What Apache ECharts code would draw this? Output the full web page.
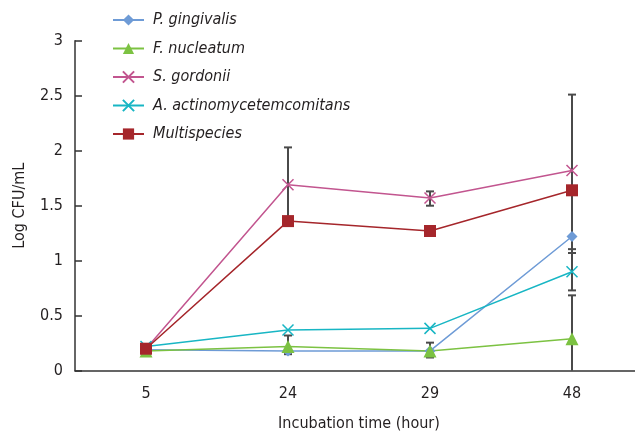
<!DOCTYPE html>
<html>
<head>
<meta charset="utf-8">
<script src="https://cdn.jsdelivr.net/npm/echarts@6/dist/echarts.min.js"></script>
<style>html,body{margin:0;padding:0;background:#fff}#c{width:635px;height:436px}</style>
</head>
<body>
<div id="c"></div>
<script>
const categories = ['5', '24', '29', '48'];
const pGingivalis = [0.19, 0.18, 0.18, 1.22];
const fNucleatum = [0.18, 0.22, 0.18, 0.29];
const sGordonii = [0.20, 1.69, 1.57, 1.82];
const aActino = [0.22, 0.37, 0.385, 0.90];
const multispecies = [0.20, 1.36, 1.27, 1.64];
// error bars: [category index, from, to, cap at end (1/0)]
const errorBars = [
  [1, 1.36, 2.03, 1],
  [1, 0.22, 0.32, 1],
  [1, 0.22, 0.15, 1],
  [2, 1.57, 1.63, 1],
  [2, 1.57, 1.50, 1],
  [2, 0.18, 0.255, 1],
  [2, 0.18, 0.12, 1],
  [3, 1.64, 2.51, 1],
  [3, 1.64, 1.22, 0],
  [3, 1.22, 1.07, 1],
  [3, 0.90, 1.105, 1],
  [3, 0.90, 0.73, 1],
  [3, 0.29, 0.685, 1],
  [3, 0.29, 0.0, 0]
];
const yTicks = {min: 0, max: 3, interval: 0.5};

const FONT = '"DejaVu Sans Condensed", "Liberation Sans Narrow", "Roboto", sans-serif';
const TXT = '#231f20';
const crossPath = 'path://M0,0L10,10M10,0L0,10';
const vbarPath = 'path://M5,0L5,10';

const chart = echarts.init(document.getElementById('c'), null, {renderer: 'canvas'});

function lineSeries(name, data, color, symbol, size, extra) {
  return Object.assign({
    name: name, type: 'line', data: data, symbol: symbol, symbolSize: size,
    lineStyle: {color: color, width: 1.5},
    itemStyle: {color: color},
    z: 3, animation: false
  }, extra || {});
}

chart.setOption({
  animation: false,
  grid: {left: 75, top: 40.7, width: 568, height: 330, outerBoundsMode: 'none'},
  legend: {
    orient: 'vertical', left: 107, top: 7,
    itemWidth: 31, itemHeight: 14, itemGap: 12.5,
    textStyle: {fontFamily: FONT, fontSize: 16, fontStyle: 'italic', color: TXT, padding: [0, 0, 0, 4]},
    data: ['P. gingivalis', 'F. nucleatum', 'S. gordonii', 'A. actinomycetemcomitans', 'Multispecies']
  },
  xAxis: {
    type: 'category', data: categories, boundaryGap: true,
    name: 'Incubation time (hour)', nameLocation: 'middle', nameGap: 45,
    nameTextStyle: {fontFamily: FONT, fontSize: 16, color: TXT},
    axisLine: {lineStyle: {color: '#333', width: 1.5}},
    axisTick: {inside: true, alignWithLabel: true, length: 7, lineStyle: {color: '#333', width: 1.5}},
    axisLabel: {fontFamily: FONT, fontSize: 16, color: TXT, margin: 15}
  },
  yAxis: {
    type: 'value', min: yTicks.min, max: yTicks.max, interval: yTicks.interval,
    name: 'Log CFU/mL', nameLocation: 'middle', nameGap: 47,
    nameTextStyle: {fontFamily: FONT, fontSize: 16, color: TXT},
    axisLine: {show: true, lineStyle: {color: '#333', width: 1.5}},
    axisTick: {show: true, inside: true, length: 7, lineStyle: {color: '#333', width: 1.5}},
    axisLabel: {fontFamily: FONT, fontSize: 16, color: TXT, margin: 12},
    splitLine: {show: false}
  },
  series: [
    {
      type: 'custom', name: 'err', z: 2, silent: true, animation: false,
      data: errorBars,
      encode: {x: 0, y: [1, 2]},
      renderItem: function (params, api) {
        const p1 = api.coord([api.value(0), api.value(1)]);
        const p2 = api.coord([api.value(0), api.value(2)]);
        const children = [{
          type: 'line', shape: {x1: p1[0], y1: p1[1], x2: p2[0], y2: p2[1]},
          style: {stroke: '#4a4a4a', lineWidth: 2}
        }];
        if (api.value(3)) {
          children.push({
            type: 'line', shape: {x1: p2[0] - 4, y1: p2[1], x2: p2[0] + 4, y2: p2[1]},
            style: {stroke: '#4a4a4a', lineWidth: 2}
          });
        }
        return {type: 'group', children: children};
      }
    },
    lineSeries('P. gingivalis', pGingivalis, '#6e9bd6', 'diamond', 11),
    lineSeries('F. nucleatum', fNucleatum, '#7cc242', 'triangle', 13),
    lineSeries('S. gordonii', sGordonii, '#c2558f', crossPath, 11,
      {itemStyle: {color: '#c2558f', borderColor: '#c2558f', borderWidth: 1.5}}),
    lineSeries('A. actinomycetemcomitans', aActino, '#18b6c4', crossPath, 11,
      {itemStyle: {color: '#18b6c4', borderColor: '#18b6c4', borderWidth: 1.5}}),
    {
      type: 'scatter', name: 'A-star', data: aActino, symbol: vbarPath, symbolSize: [2, 13],
      itemStyle: {color: '#18b6c4', borderColor: '#18b6c4', borderWidth: 1.5},
      z: 3, silent: true, animation: false
    },
    lineSeries('Multispecies', multispecies, '#a5262b', 'rect', 12)
  ]
});
</script>
</body>
</html>
